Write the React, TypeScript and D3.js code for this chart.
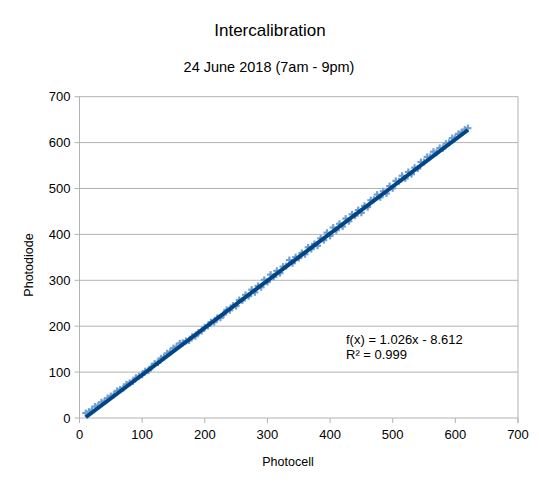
import { scaleLinear } from "d3";
import React from "react";

// photocell readings (x) vs photodiode readings (y)
const photocell = [
	10, 15, 20, 25, 30, 35, 40, 45, 50, 55, 60, 65, 70, 75, 80, 85, 90, 95, 100,
	105, 110, 115, 120, 125, 130, 135, 140, 145, 150, 155, 160, 165, 170, 175,
	180, 185, 190, 195, 200, 205, 210, 215, 220, 225, 230, 235, 240, 245, 250,
	255, 260, 265, 270, 275, 280, 285, 290, 295, 300, 305, 310, 315, 320, 325,
	330, 335, 340, 345, 350, 355, 360, 365, 370, 375, 380, 385, 390, 395, 400,
	405, 410, 415, 420, 425, 430, 435, 440, 445, 450, 455, 460, 465, 470, 475,
	480, 485, 490, 495, 500, 505, 510, 515, 520, 525, 530, 535, 540, 545, 550,
	555, 560, 565, 570, 575, 580, 585, 590, 595, 600, 605, 610, 615, 620,
];
const photodiode = [
	10.7, 13.8, 17.9, 25.0, 27.2, 34.3, 36.4, 43.6, 47.7, 50.8, 59.0, 62.1, 65.2,
	73.3, 76.5, 79.6, 87.7, 90.9, 94.0, 102.1, 103.3, 111.4, 118.5, 120.6, 129.8,
	132.9, 141.0, 144.2, 152.3, 155.4, 162.6, 163.7, 167.8, 168.9, 177.1, 178.2,
	186.3, 189.5, 197.6, 200.7, 208.9, 209.0, 218.1, 218.2, 225.4, 235.5, 234.6,
	244.8, 243.9, 257.0, 256.2, 268.3, 265.4, 279.5, 273.7, 287.8, 284.9, 301.1,
	296.2, 312.3, 307.5, 320.6, 315.7, 329.8, 331.0, 344.1, 337.2, 350.4, 348.5,
	359.6, 356.8, 371.9, 368.0, 379.1, 375.3, 391.4, 387.5, 403.7, 396.8, 414.9,
	409.1, 423.2, 417.3, 434.4, 428.6, 443.7, 440.8, 453.0, 447.1, 462.2, 459.4,
	474.5, 475.6, 486.7, 480.9, 494.0, 489.1, 505.3, 500.4, 516.5, 515.7, 527.8,
	521.9, 536.0, 531.2, 545.3, 543.4, 557.6, 557.7, 568.8, 569.0, 580.1, 578.2,
	588.3, 587.5, 597.6, 599.7, 609.9, 611.0, 619.1, 622.3, 628.4, 631.5,
];
const xTicks = [0, 100, 200, 300, 400, 500, 600, 700];
const yTicks = [0, 100, 200, 300, 400, 500, 600, 700];
const slope = 1.026;
const intercept = -8.612;

const App: React.FC = () => {
	const width = 539;
	const height = 489;
	const plot = { left: 79.5, right: 518, top: 96.7, bottom: 418 };
	const font = "'Liberation Sans', Arial, sans-serif";

	const xScale = scaleLinear().domain([0, 700]).range([plot.left, plot.right]);
	const yScale = scaleLinear().domain([0, 700]).range([plot.bottom, plot.top]);

	const xMin = Math.min(...photocell);
	const xMax = Math.max(...photocell);

	return (
		<svg
			width={width}
			height={height}
			style={{ position: "absolute", left: 0, top: 0, background: "#fff" }}
			fontFamily={font}>
			<text x={270} y={36} textAnchor="middle" fontSize={17}>
				Intercalibration
			</text>
			<text x={269} y={72} textAnchor="middle" fontSize={14.5}>
				24 June 2018 (7am - 9pm)
			</text>

			{/* horizontal grid + left ticks */}
			{yTicks.map((t) => (
				<g key={t}>
					<line
						x1={plot.left - 5}
						x2={plot.right}
						y1={yScale(t)}
						y2={yScale(t)}
						stroke="#b3b3b3"
					/>
					<text
						x={plot.left - 9}
						y={yScale(t)}
						dy="0.35em"
						textAnchor="end"
						fontSize={13}>
						{t}
					</text>
				</g>
			))}
			{/* axes frame */}
			<line x1={plot.left} x2={plot.left} y1={plot.top} y2={plot.bottom + 5} stroke="#b3b3b3" />
			<line x1={plot.right} x2={plot.right} y1={plot.top} y2={plot.bottom + 5} stroke="#b3b3b3" />
			{xTicks.map((t) => (
				<g key={t}>
					<line
						x1={xScale(t)}
						x2={xScale(t)}
						y1={plot.bottom}
						y2={plot.bottom + 5}
						stroke="#b3b3b3"
					/>
					<text x={xScale(t)} y={439} textAnchor="middle" fontSize={13}>
						{t}
					</text>
				</g>
			))}

			{/* scatter markers */}
			<g stroke="#729fcf" strokeWidth={2.2}>
				{photocell.map((xv, i) => {
					const cx = xScale(xv);
					const cy = yScale(photodiode[i]);
					return (
						<g key={i}>
							<line x1={cx - 3.5} x2={cx + 3.5} y1={cy} y2={cy} />
							<line x1={cx} x2={cx} y1={cy - 3.5} y2={cy + 3.5} />
						</g>
					);
				})}
			</g>

			{/* linear trendline */}
			<line
				x1={xScale(xMin)}
				y1={yScale(slope * xMin + intercept)}
				x2={xScale(xMax)}
				y2={yScale(slope * xMax + intercept)}
				stroke="#004586"
				strokeWidth={4}
			/>

			<text x={346} y={343.5} fontSize={13}>
				f(x) = 1.026x - 8.612
			</text>
			<text x={346} y={358.5} fontSize={13}>
				R² = 0.999
			</text>

			<text x={288} y={466} textAnchor="middle" fontSize={12.5}>
				Photocell
			</text>
			<text
				transform={`translate(33, 265) rotate(-90)`}
				textAnchor="middle"
				fontSize={12.5}>
				Photodiode
			</text>
		</svg>
	);
};

export default App;
